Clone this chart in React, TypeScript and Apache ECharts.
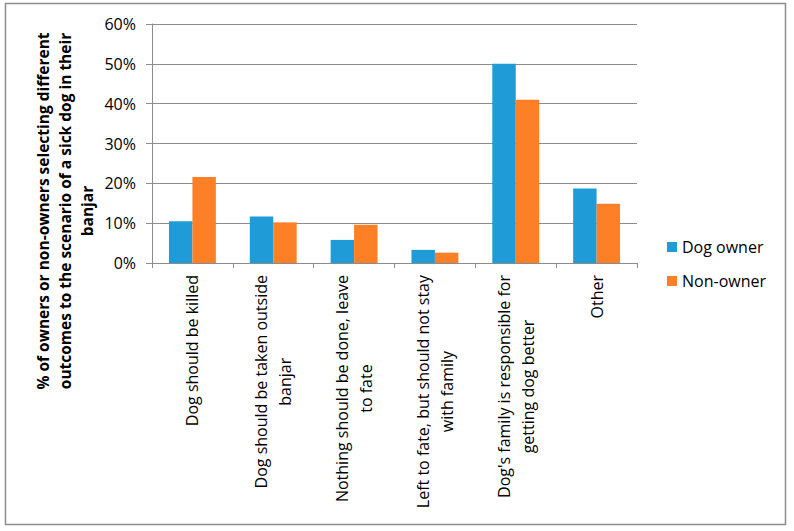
import React, { useEffect, useRef } from "react";
import * as echarts from "echarts";

const categories = [
  "Dog should be killed",
  "Dog should be taken outside\nbanjar",
  "Nothing should be done, leave\nto fate",
  "Left to fate, but should not stay\nwith family",
  "Dog's family is responsible for\ngetting dog better",
  "Other",
];
const dogOwner = [10.5, 11.7, 5.8, 3.3, 50.0, 18.7];
const nonOwner = [21.6, 10.2, 9.6, 2.6, 41.0, 14.9];
const seriesNames = ["Dog owner", "Non-owner"];
const yTitle =
  "% of owners or non-owners selecting different\noutcomes to the scenario of a sick dog in their\nbanjar";

const FONT = "'Open Sans', 'DejaVu Sans', sans-serif";

export default function App() {
  const ref = useRef<HTMLDivElement>(null);
  useEffect(() => {
    if (!ref.current) return;
    const chart = echarts.init(ref.current, null, { renderer: "svg" });
    chart.setOption({
      animation: false,
      backgroundColor: "#ffffff",
      grid: { left: 152, right: 157, top: 24, bottom: 268, containLabel: false },
      legend: {
        orient: "vertical",
        left: 667,
        top: 237,
        padding: 0,
        itemWidth: 10,
        itemHeight: 10,
        itemGap: 14,
        icon: "rect",
        textStyle: { fontFamily: FONT, fontSize: 16, color: "#000", lineHeight: 20 },
        data: seriesNames,
      },
      xAxis: {
        type: "category",
        data: categories,
        axisLine: { show: true, lineStyle: { color: "#8c8c8c", width: 1 } },
        axisTick: { show: true, length: 5, alignWithLabel: false, lineStyle: { color: "#8c8c8c" } },
        axisLabel: {
          rotate: 90,
          margin: 12,
          interval: 0,
          formatter: (v: string) =>
            v
              .split("\n")
              .map((l) => `{c|${l}}`)
              .join("\n"),
          rich: {
            c: {
              align: "center",
              fontFamily: FONT,
              fontSize: 16,
              color: "#000",
              lineHeight: 24,
            },
          },
        },
      },
      yAxis: {
        type: "value",
        min: 0,
        max: 60,
        interval: 10,
        axisLine: { show: true, lineStyle: { color: "#8c8c8c", width: 1 } },
        axisTick: { show: true, length: 6, lineStyle: { color: "#8c8c8c" } },
        splitLine: { show: true, lineStyle: { color: "#8c8c8c", width: 1 } },
        axisLabel: {
          formatter: "{value}%",
          margin: 16,
          fontFamily: FONT,
          fontSize: 16,
          color: "#000",
        },
      },
      series: [
        {
          name: seriesNames[0],
          type: "bar",
          data: dogOwner,
          itemStyle: { color: "#1f9bd7" },
          barGap: "0%",
          barCategoryGap: "42%",
        },
        {
          name: seriesNames[1],
          type: "bar",
          data: nonOwner,
          itemStyle: { color: "#fd7f26" },
          barGap: "0%",
          barCategoryGap: "42%",
        },
      ],
      graphic: [
        {
          type: "rect",
          shape: { x: 5.5, y: 3.5, width: 780, height: 521 },
          style: { fill: "none", stroke: "#8c8c8c", lineWidth: 1.5 },
          silent: true,
        },
        {
          type: "text",
          x: 65,
          y: 211,
          rotation: Math.PI / 2,
          style: {
            text: yTitle,
            fontFamily: FONT,
            fontWeight: "bold",
            fontSize: 15.5,
            lineHeight: 22,
            fill: "#000",
            textAlign: "center",
            textVerticalAlign: "middle",
          },
        },
      ],
    });
    return () => chart.dispose();
  }, []);
  return (
    <div
      ref={ref}
      style={{ position: "absolute", left: 0, top: 0, width: 794, height: 531 }}
    />
  );
}
